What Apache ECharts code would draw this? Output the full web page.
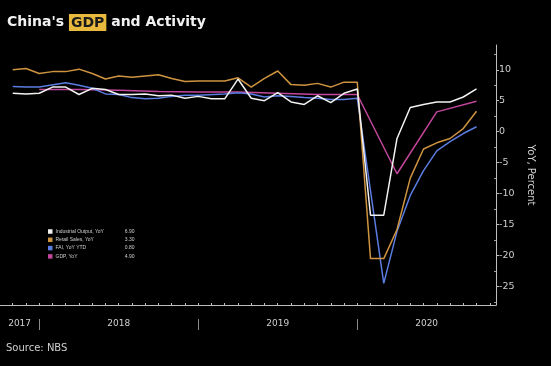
<!DOCTYPE html>
<html>
<head>
<meta charset="utf-8">
<script src="https://cdn.jsdelivr.net/npm/echarts@6/dist/echarts.min.js"></script>
<style>
html,body{margin:0;padding:0;background:#000;}
#chart{width:551px;height:366px;}
</style>
</head>
<body>
<div id="chart"></div>
<script>
// ---- data ----
const months = ['2017-10','2017-11','2017-12',
  '2018-01','2018-02','2018-03','2018-04','2018-05','2018-06','2018-07','2018-08','2018-09','2018-10','2018-11','2018-12',
  '2019-01','2019-02','2019-03','2019-04','2019-05','2019-06','2019-07','2019-08','2019-09','2019-10','2019-11','2019-12',
  '2020-01','2020-02','2020-03','2020-04','2020-05','2020-06','2020-07','2020-08','2020-09'];
const industrialOutput = [6.2,6.1,6.2, 7.2,7.2,6.0,7.0,6.8,6.0,6.0,6.1,5.8,5.9,5.4,5.7, 5.3,5.3,8.5,5.4,5.0,6.3,4.8,4.4,5.8,4.7,6.2,6.9, -13.5,-13.5,-1.1,3.9,4.4,4.8,4.8,5.6,6.9];
const retailSales = [10.0,10.2,9.4, 9.7,9.7,10.1,9.4,8.5,9.0,8.8,9.0,9.2,8.6,8.1,8.2, 8.2,8.2,8.7,7.2,8.6,9.8,7.6,7.5,7.8,7.2,8.0,8.0, -20.5,-20.5,-15.8,-7.5,-2.8,-1.8,-1.1,0.5,3.3];
const faiYtd = [7.3,7.2,7.2, null,7.9,7.5,7.0,6.1,6.0,5.5,5.3,5.4,5.7,5.9,5.9, null,6.1,6.3,6.1,5.6,5.8,5.7,5.5,5.4,5.2,5.2,5.4, null,-24.5,-16.1,-10.3,-6.3,-3.1,-1.6,-0.3,0.8];
const gdpYoy = [null,null,6.8, null,null,6.8,null,null,6.7,null,null,6.5,null,null,6.4, null,null,6.4,null,null,6.2,null,null,6.0,null,null,6.0, null,null,-6.8,null,null,3.2,null,null,4.9];
const seriesNames = ['Industrial Output, YoY','Retail Sales, YoY','FAI, YoY YTD','GDP, YoY'];
const years = ['2017','2018','2019','2020'];
const yTickValues = [-25,-20,-15,-10,-5,0,5,10];

// ---- layout / style ----
const FONT = 'DejaVu Sans';
const SMALL = 'Liberation Sans';
const TXT = '#cfcfcf';
const colors = ['#f2f2f2','#cf9440','#5b7ce0','#c2479c'];
const xMin = -0.96, xMax = 36.47;

const valuesByName = {};
const dataSets = [industrialOutput, retailSales, faiYtd, gdpYoy];
seriesNames.forEach((n,i)=>{ valuesByName[n] = dataSets[i]; });

function pairs(arr){ return arr.map((v,i)=>[i, v]); }
function lastVal(arr){ for(let i=arr.length-1;i>=0;i--){ if(arr[i]!=null) return arr[i]; } return null; }

const monthTicks = months.map((m,i)=>i).concat([months.length]);
const decIdx = months.map((m,i)=>m.endsWith('-12')?i:-1).filter(i=>i>=0);
const bounds = [xMin].concat(decIdx).concat([xMax]);
const yearCenters = years.map((y,i)=>(bounds[i]+bounds[i+1])/2);
const minorY = [];
for (let v=-27.5; v<14; v+=5) minorY.push(v);
function yearFor(v){
  let best = 0, d = Infinity;
  yearCenters.forEach((c,i)=>{ const dd = Math.abs(c - v); if (dd < d) { d = dd; best = i; } });
  return years[best];
}

const chart = echarts.init(document.getElementById('chart'));
const drawOrder = [3,2,1,0];
chart.setOption({
  backgroundColor:'#000',
  animation:false,
  textStyle:{fontFamily:FONT},
  title:[{
    text:"{a|China's }{b|GDP}{a| and Activity}",
    left:7, top:14, padding:0,
    textStyle:{rich:{
      a:{color:'#f2f2f2', fontSize:14, fontWeight:'bold', fontFamily:FONT},
      b:{color:'#1a1a1a', backgroundColor:'#e8b93c', fontSize:14, fontWeight:'bold', fontFamily:FONT, padding:[2,2,1,2]}
    }}
  },{
    text:'Source: NBS', left:6, top:343, padding:0,
    textStyle:{color:TXT, fontSize:10, fontWeight:'normal', fontFamily:FONT}
  }],
  legend:{
    orient:'vertical', left:48, top:229, padding:0,
    itemWidth:4.5, itemHeight:4.5, itemGap:3.3, icon:'rect',
    data:seriesNames,
    textStyle:{color:TXT, fontSize:5, fontFamily:SMALL, padding:[0,0,0,-2], rich:{
      n:{width:60, fontSize:5, color:TXT, fontFamily:SMALL, lineHeight:6.1},
      v:{width:19, align:'right', fontSize:5, color:TXT, fontFamily:SMALL, lineHeight:6.1}
    }},
    formatter:(name)=>'{n|'+name+'}{v|'+lastVal(valuesByName[name]).toFixed(2)+'}'
  },
  grid:{left:0, right:55, top:45, bottom:61, containLabel:false},
  xAxis:[{
    type:'value', min:xMin, max:xMax, position:'bottom',
    axisLine:{show:true, onZero:false, lineStyle:{color:'#bdbdbd', width:1}},
    axisTick:{show:true, customValues:monthTicks, length:2, inside:true, lineStyle:{color:'#bdbdbd'}},
    axisLabel:{show:false},
    splitLine:{show:false}
  },{
    type:'value', min:xMin, max:xMax, position:'bottom', offset:14,
    axisLine:{show:false, onZero:false},
    axisTick:{show:true, customValues:decIdx, length:11, lineStyle:{color:'#8a8a8a'}},
    axisLabel:{show:false}, splitLine:{show:false}
  },{
    type:'value', min:xMin, max:xMax, position:'bottom', offset:0,
    axisLine:{show:false, onZero:false},
    axisTick:{show:false},
    axisLabel:{show:true, customValues:yearCenters, color:TXT, fontSize:9, margin:14,
      showMinLabel:true, showMaxLabel:true, hideOverlap:false,
      formatter:(v)=>yearFor(v)},
    splitLine:{show:false}
  }],
  yAxis:[{
    type:'value', min:-28, max:14, position:'right',
    axisLine:{show:true, onZero:false, lineStyle:{color:'#bdbdbd', width:1}},
    axisTick:{show:true, customValues:yTickValues, length:3, lineStyle:{color:'#bdbdbd'}},
    axisLabel:{show:true, customValues:yTickValues, color:TXT, fontSize:9.5, margin:3},
    splitLine:{show:false},
    name:'YoY, Percent', nameLocation:'middle', nameRotate:-90, nameGap:27,
    nameTextStyle:{color:TXT, fontSize:10, fontFamily:FONT}
  },{
    type:'value', min:-28, max:14, position:'right',
    axisLine:{show:false, onZero:false},
    axisTick:{show:true, customValues:minorY, inside:true, length:2, lineStyle:{color:'#9a9a9a'}},
    axisLabel:{show:false}, splitLine:{show:false}
  }],
  series: drawOrder.map(i=>({
    name:seriesNames[i], type:'line', data:pairs(dataSets[i]),
    xAxisIndex:0, yAxisIndex:0,
    showSymbol:false, symbol:'none', connectNulls:true,
    lineStyle:{color:colors[i], width:1.5},
    itemStyle:{color:colors[i]}
  }))
});
</script>
</body>
</html>
